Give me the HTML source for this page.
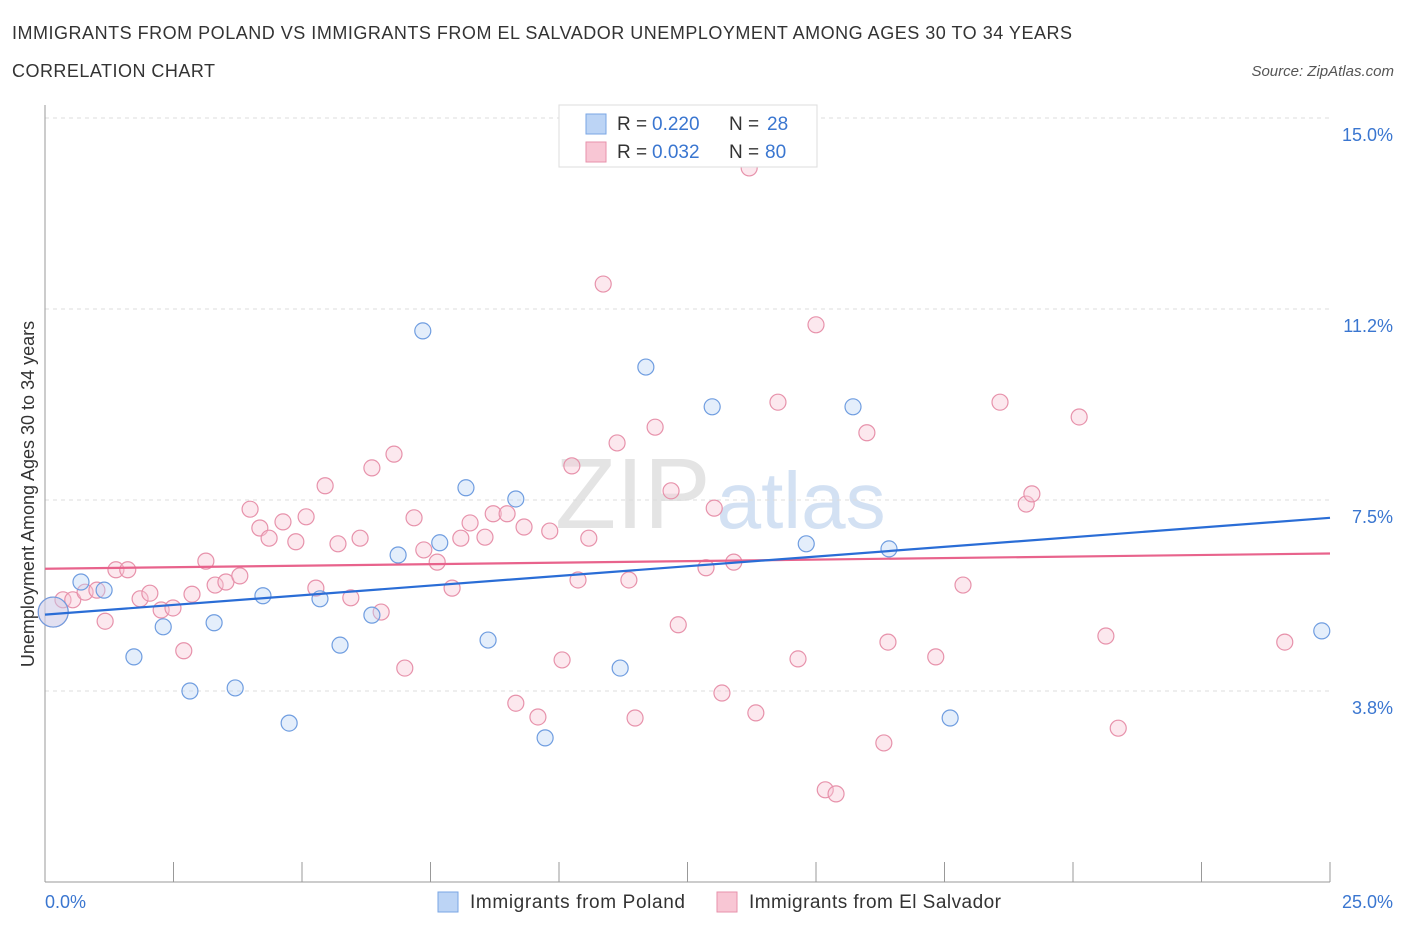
<!DOCTYPE html>
<html><head><meta charset="utf-8"><style>
body{margin:0;background:#fff;font-family:"Liberation Sans",sans-serif;}
svg text{font-family:"Liberation Sans",sans-serif;}
</style></head><body>
<svg id="chart" width="1406" height="930">
<text x="12" y="39" font-size="18" fill="#333" textLength="1060">IMMIGRANTS FROM POLAND VS IMMIGRANTS FROM EL SALVADOR UNEMPLOYMENT AMONG AGES 30 TO 34 YEARS</text>
<text x="12" y="77" font-size="18" fill="#333" textLength="203">CORRELATION CHART</text>
<text x="1394" y="76" font-size="15" fill="#555" font-style="italic" text-anchor="end">Source: ZipAtlas.com</text>
<text x="555" y="528" font-size="100" fill="#e4e4e4" font-family="Liberation Serif">ZIP<tspan fill="#d3e1f3" font-family="Liberation Sans" font-size="80" dx="6">atlas</tspan></text>
<g id="grid"></g><g id="axes"></g><g id="marks"></g>
<text transform="translate(34,494) rotate(-90)" font-size="18" fill="#333" text-anchor="middle">Unemployment Among Ages 30 to 34 years</text>
<text x="45" y="908" font-size="18" fill="#3a76d0">0.0%</text>
<text x="1393" y="908" font-size="18" fill="#3a76d0" text-anchor="end">25.0%</text>
<g>
<rect x="559" y="105" width="258" height="62" fill="#fff" stroke="#ddd"/>
<rect x="586" y="114" width="20" height="20" fill="#bcd4f5" stroke="#7aa6e4"/>
<text x="617" y="130" font-size="19" fill="#333">R =</text>
<text x="652" y="130" font-size="19" fill="#3a76d0">0.220</text>
<text x="729" y="130" font-size="19" fill="#333">N =</text>
<text x="767" y="130" font-size="19" fill="#3a76d0">28</text>
<rect x="586" y="142" width="20" height="20" fill="#f8c6d4" stroke="#e792ab"/>
<text x="617" y="158" font-size="19" fill="#333">R =</text>
<text x="652" y="158" font-size="19" fill="#3a76d0">0.032</text>
<text x="729" y="158" font-size="19" fill="#333">N =</text>
<text x="765" y="158" font-size="19" fill="#3a76d0">80</text>
</g>
<g>
<rect x="438" y="892" width="20" height="20" fill="#bcd4f5" stroke="#7aa6e4"/>
<text x="470" y="908" font-size="19" fill="#333" textLength="215">Immigrants from Poland</text>
<rect x="717" y="892" width="20" height="20" fill="#f8c6d4" stroke="#e792ab"/>
<text x="749" y="908" font-size="19" fill="#333" textLength="252">Immigrants from El Salvador</text>
</g>
</svg>
<script>
const yTicks=[3.75,7.5,11.25,15];
const yTickLabels=["3.8%","7.5%","11.2%","15.0%"];
const polandX=[0.16,0.70,1.15,1.73,2.30,2.82,3.29,3.70,4.24,4.75,5.35,5.74,6.36,6.87,7.35,7.68,8.19,8.62,9.16,9.73,11.19,11.69,12.98,14.81,15.72,16.42,17.61,24.84];
const polandY=[5.30,5.89,5.73,4.42,5.01,3.75,5.09,3.81,5.62,3.12,5.56,4.65,5.24,6.42,10.82,6.66,7.74,4.75,7.52,2.83,4.20,10.11,9.33,6.64,9.33,6.54,3.22,4.93];
const salvX=[0.16,0.35,0.54,0.78,1.01,1.17,1.38,1.61,1.85,2.04,2.26,2.49,2.70,2.86,3.13,3.31,3.52,3.79,3.99,4.18,4.36,4.63,4.88,5.08,5.27,5.70,5.45,5.95,6.13,6.36,6.54,6.79,7.00,7.18,7.37,7.63,7.92,8.09,8.27,8.56,8.72,8.99,9.16,9.32,9.59,9.82,10.06,10.25,10.37,10.58,10.86,11.13,11.36,11.48,11.87,12.18,12.32,12.86,13.02,13.17,13.40,13.70,13.83,14.26,14.65,15.00,15.18,15.39,15.99,16.32,16.40,17.33,17.86,18.58,19.09,19.20,20.12,20.64,20.88,24.12];
const salvY=[5.30,5.54,5.54,5.69,5.73,5.12,6.13,6.13,5.56,5.67,5.34,5.38,4.54,5.65,6.30,5.83,5.89,6.01,7.32,6.95,6.75,7.07,6.68,7.17,5.77,6.64,7.78,5.58,6.75,8.13,5.30,8.40,4.20,7.15,6.52,6.28,5.77,6.75,7.05,6.77,7.23,7.23,3.51,6.97,3.24,6.89,4.36,8.17,5.93,6.75,11.74,8.62,5.93,3.22,8.93,7.68,5.05,6.17,7.34,3.71,6.28,14.02,3.32,9.42,4.38,10.94,1.81,1.73,8.82,2.73,4.71,4.42,5.83,9.42,7.42,7.62,9.13,4.83,3.02,4.71];
const polandTrend=[5.25,7.15];
const salvTrend=[6.15,6.45];
const xDomain=[0,25];
const NS="http://www.w3.org/2000/svg";
const sx=v=>45+v*(1330-45)/25;
const sy=v=>882-v*(882-118)/15;
function mk(tag,attrs,parent){const e=document.createElementNS(NS,tag);for(const k in attrs)e.setAttribute(k,attrs[k]);document.getElementById(parent).appendChild(e);return e;}
yTicks.forEach((t,i)=>{
 const g=mk('line',{x1:45,x2:1330,y1:sy(t),y2:sy(t),stroke:'#ddd','stroke-dasharray':'4,4'},'grid');
 
 
 const l=mk('text',{x:1393,y:sy(t)+23,'font-size':18,fill:'#3a76d0','text-anchor':'end'},'grid');
 l.textContent=yTickLabels[i];
 
 
});
const ax=mk('line',{x1:45,x2:1330,y1:882,y2:882,stroke:'#999'},'axes');


const ay=mk('line',{x1:45,x2:45,y1:105,y2:882,stroke:'#999'},'axes');


for(let i=0;i<=10;i++){const v=i*2.5;
 const t=mk('line',{x1:sx(v),x2:sx(v),y1:862,y2:882,stroke:'#999'},'axes');
 
 
}
function pts(xs,ys,fill,stroke,name){
 xs.forEach((x,i)=>{
  const r=i===0?15:8;
  const c=mk('circle',{cx:sx(x),cy:sy(ys[i]),r:r,fill:fill,'fill-opacity':0.4,stroke:stroke,'stroke-width':1.2},'marks');
  
  
 });
}
pts(salvX,salvY,'#f8c6d4','#e792ab','el-salvador-point');
pts(polandX,polandY,'#bcd4f5','#6f9de0','poland-point');
const l1=mk('line',{x1:sx(xDomain[0]),x2:sx(xDomain[1]),y1:sy(salvTrend[0]),y2:sy(salvTrend[1]),stroke:'#e8638c','stroke-width':2.2},'marks');


const l2=mk('line',{x1:sx(xDomain[0]),x2:sx(xDomain[1]),y1:sy(polandTrend[0]),y2:sy(polandTrend[1]),stroke:'#2a6dd6','stroke-width':2.2},'marks');


</script>
</body></html>
